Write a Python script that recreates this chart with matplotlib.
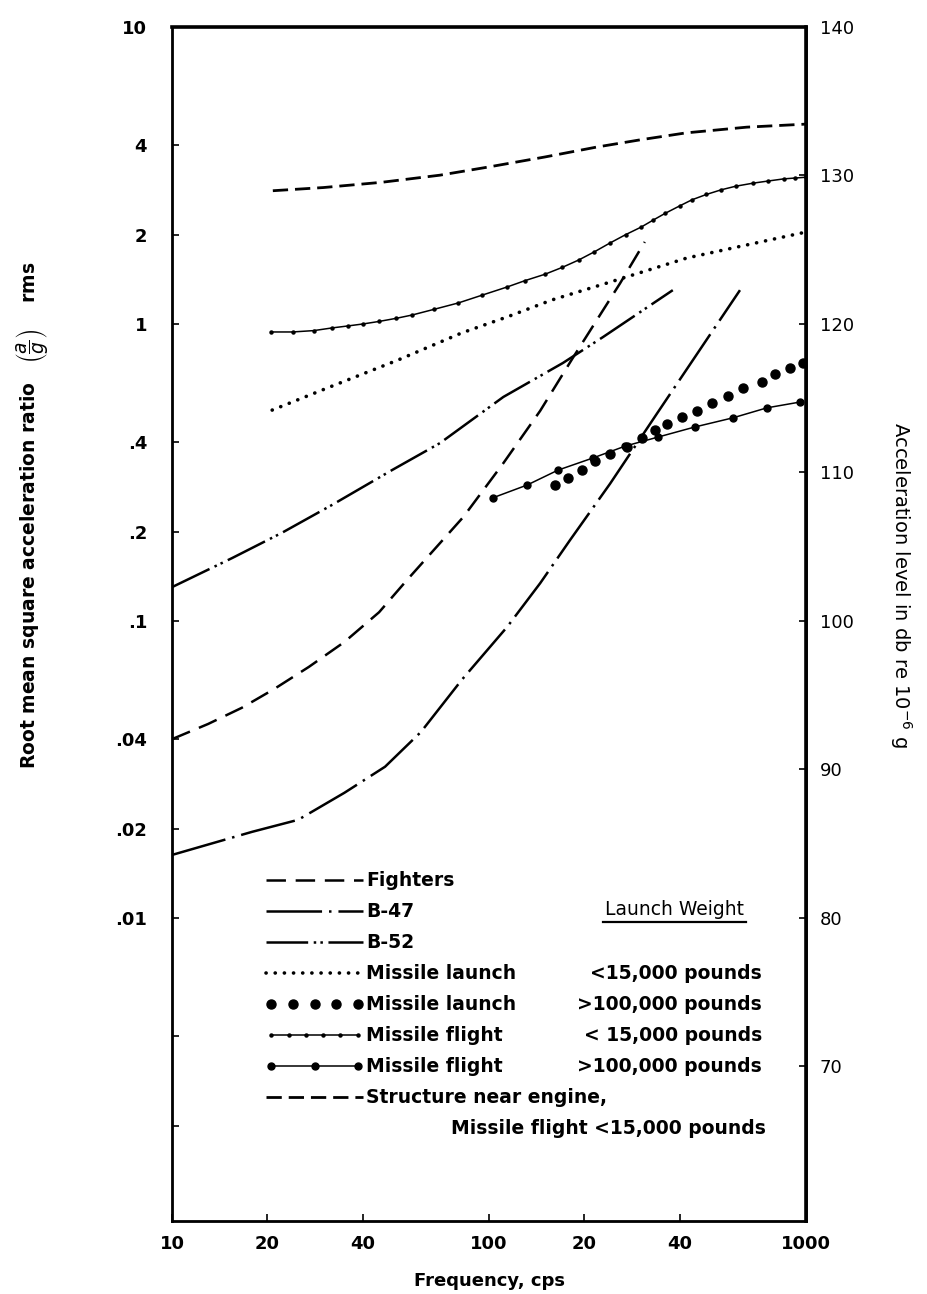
import numpy as np
import matplotlib.pyplot as plt
from matplotlib.legend_handler import HandlerLine2D
from matplotlib.lines import Line2D

# values (frequency in cps, a/g rms)
freq_fighters = [10, 13, 16.6, 21, 27, 35, 45, 55, 83, 111, 145, 184, 259, 310]
acc_fighters = [0.040, 0.045, 0.051, 0.059, 0.070, 0.085, 0.107, 0.137, 0.224, 0.34, 0.51, 0.77, 1.37, 1.89]

freq_b47 = [10, 17.9, 25, 35, 47, 61, 82, 114, 145, 180, 241, 339, 470, 619]
acc_b47 = [0.0163, 0.0195, 0.0214, 0.0264, 0.0323, 0.0423, 0.0633, 0.0954, 0.134, 0.187, 0.29, 0.50, 0.84, 1.30]

freq_b52 = [10, 15.5, 22.2, 32, 49.4, 70, 111, 171, 229, 380]
acc_b52 = [0.130, 0.163, 0.198, 0.246, 0.322, 0.397, 0.568, 0.739, 0.904, 1.30]

freq_launch_small = [20.7, 32, 51.6, 82, 114, 158, 241, 421, 1000]
acc_launch_small = [0.513, 0.618, 0.756, 0.933, 1.056, 1.205, 1.384, 1.668, 2.04]

freq_launch_large = [162, 178, 197, 216, 241, 273, 304, 334, 364, 406, 453, 505, 568, 633, 726, 799, 890, 978]
acc_launch_large = [0.287, 0.303, 0.322, 0.346, 0.365, 0.385, 0.413, 0.440, 0.461, 0.486, 0.509, 0.542, 0.572, 0.609, 0.638, 0.679, 0.711, 0.739]

freq_flight_small = [20.5, 24, 28, 32, 35.9, 40, 45, 51, 57.2, 67, 80, 95, 114, 130, 150, 170, 192, 215, 240, 270, 302, 330, 360, 400, 437, 485, 540, 600, 681, 760, 850, 920, 1000]
acc_flight_small = [0.94, 0.94, 0.95, 0.97, 0.985, 1.0, 1.02, 1.045, 1.072, 1.12, 1.177, 1.25, 1.332, 1.40, 1.47, 1.55, 1.643, 1.75, 1.87, 2.0, 2.12, 2.24, 2.36, 2.50, 2.62, 2.73, 2.83, 2.91, 2.98, 3.03, 3.08, 3.10, 3.12]

freq_flight_large = [103, 132, 165, 213, 269, 341, 446, 588, 753, 958]
acc_flight_large = [0.26, 0.287, 0.322, 0.354, 0.388, 0.416, 0.450, 0.483, 0.522, 0.546]

freq_structure = [20.8, 30, 45.9, 70, 100, 150, 218, 300, 418, 650, 1000]
acc_structure = [2.81, 2.88, 3.0, 3.17, 3.38, 3.65, 3.94, 4.17, 4.40, 4.60, 4.71]

legend_labels = ["Fighters", "B-47", "B-52", "Missile launch", "Missile launch",
                 "Missile flight", "Missile flight", "Structure near engine,"]
weight_labels = ["<15,000 pounds", ">100,000 pounds", "< 15,000 pounds", ">100,000 pounds"]

x_ticks = [10, 20, 40, 100, 200, 400, 1000]
x_ticklabels = ["10", "20", "40", "100", "20", "40", "1000"]
y_ticks = [10, 4, 2, 1, 0.4, 0.2, 0.1, 0.04, 0.02, 0.01]
y_ticklabels = ["10", "4", "2", "1", ".4", ".2", ".1", ".04", ".02", ".01"]
y_minor = [0.004, 0.002]
db_ticks = [70, 80, 90, 100, 110, 120, 130, 140]

plt.rcParams['font.family'] = ['DejaVu Sans']
plt.rcParams['lines.scale_dashes'] = False

fig = plt.figure(figsize=(9.27, 12.94), dpi=100)
ax = fig.add_axes([0.18555, 0.05641, 0.68393, 0.92272])
ax.set_xscale('log')
ax.set_yscale('log')
ax.set_xlim(10, 1000)
ylo, yhi = 0.000954, 10
ax.set_ylim(ylo, yhi)

k = 'black'
l_fig, = ax.plot(freq_fighters, acc_fighters, color=k, lw=1.8, ls=(0, (14, 7)))
l_b47, = ax.plot(freq_b47, acc_b47, color=k, lw=1.8, ls=(0, (40, 5, 1.8, 5)))
l_b52, = ax.plot(freq_b52, acc_b52, color=k, lw=1.8, ls=(0, (30, 4, 1.8, 3, 1.8, 4)))
l_ls, = ax.plot(freq_launch_small, acc_launch_small, color=k, lw=2.6,
                ls=(0, (0.1, 6.5)), dash_capstyle='round')
l_ll, = ax.plot(freq_launch_large, acc_launch_large, color=k, ls='none',
                marker='o', ms=6.5)
l_fs, = ax.plot(freq_flight_small, acc_flight_small, color=k, lw=1.1,
                marker='o', ms=2.2)
l_fl, = ax.plot(freq_flight_large, acc_flight_large, color=k, lw=1.1,
                marker='o', ms=5)
l_st, = ax.plot(freq_structure, acc_structure, color=k, lw=2.0, ls=(0, (11, 5)))

# axes styling
for side in ['left', 'bottom', 'top', 'right']:
    ax.spines[side].set_linewidth(2.0)
ax.spines['top'].set_linewidth(2.6)

ax.set_xticks(x_ticks)
ax.set_xticklabels(x_ticklabels)
ax.xaxis.set_minor_locator(plt.NullLocator())
ax.set_yticks(y_ticks)
ax.set_yticklabels(y_ticklabels)
ax.set_yticks(y_minor, minor=True)
ax.set_yticklabels([], minor=True)
ax.tick_params(axis='both', which='both', direction='in', length=5, width=1.2,
               labelsize=13)
ax.tick_params(axis='y', pad=18)
ax.tick_params(axis='x', pad=10)
for t in ax.get_xticklabels() + ax.get_yticklabels():
    t.set_fontweight('bold')

ax2 = ax.twinx()
ax2.set_ylim(20 * np.log10(ylo) + 120, 20 * np.log10(yhi) + 120)
ax2.set_yticks(db_ticks)
ax2.tick_params(axis='y', direction='in', length=5, width=1.2, labelsize=13, pad=10)
ax2.spines['right'].set_linewidth(2.6)

ax.set_xlabel('Frequency, cps', fontsize=13, fontweight='bold', labelpad=14)
fig.text(0.034, 0.602,
         r'Root mean square acceleration ratio   $\left(\dfrac{a}{g}\right)$    rms',
         rotation=90, ha='center', va='center', fontsize=13.5, fontweight='bold')
fig.text(0.972, 0.548, r'Acceleration level in db re 10$^{-6}$ g',
         rotation=-90, ha='center', va='center', fontsize=14)

handles = [l_fig, l_b47, l_b52, l_ls, l_ll, l_fs, l_fl, l_st]
hmap = {l_ll: HandlerLine2D(numpoints=5), l_fs: HandlerLine2D(numpoints=6),
        l_fl: HandlerLine2D(numpoints=3)}
leg = ax.legend(handles, legend_labels, loc='upper left',
                bbox_to_anchor=(0.148, 0.293), frameon=False,
                prop={'size': 13.5, 'weight': 'bold'},
                handlelength=5.2, handletextpad=0.15, labelspacing=0.64,
                borderpad=0, borderaxespad=0, handler_map=hmap)

fig.canvas.draw()
inv = ax.transAxes.inverted()
row_y = []
for t in leg.get_texts():
    bb = t.get_window_extent()
    row_y.append(inv.transform((0, (bb.y0 + bb.y1) / 2))[1])
gap = row_y[0] - row_y[1]

x_right = 0.9306
for lab, y in zip(weight_labels, row_y[3:7]):
    ax.text(x_right, y, lab, ha='right', va='center', fontsize=13.5,
            fontweight='bold', transform=ax.transAxes)
ax.text(x_right + 0.006, row_y[7] - gap, 'Missile flight <15,000 pounds',
        ha='right', va='center', fontsize=13.5, fontweight='bold',
        transform=ax.transAxes)
lw_text = ax.text(0.793, row_y[1] + 0.002, 'Launch Weight', ha='center', va='center',
                  fontsize=13.5, transform=ax.transAxes)
fig.canvas.draw()
bb = lw_text.get_window_extent()
p0 = inv.transform((bb.x0 - 2, bb.y0 - 3))
p1 = inv.transform((bb.x1 + 2, bb.y0 - 3))
ax.add_line(Line2D([p0[0], p1[0]], [p0[1], p1[1]], color=k, lw=1.6,
                   transform=ax.transAxes))

fig.savefig('out.png', dpi=100)
